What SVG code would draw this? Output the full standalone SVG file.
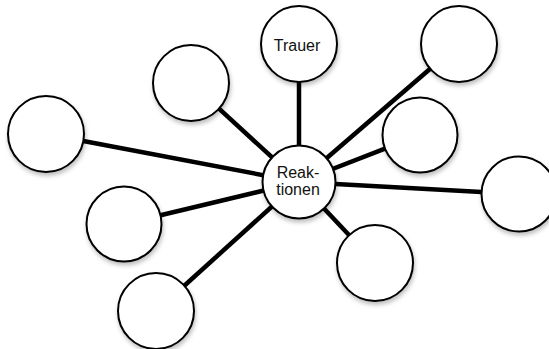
<svg xmlns="http://www.w3.org/2000/svg" width="549" height="349" viewBox="0 0 549 349">
  <defs>
    <filter id="sh" x="-20%" y="-20%" width="150%" height="150%">
      <feDropShadow dx="1" dy="3" stdDeviation="2" flood-color="#000" flood-opacity="0.25"/>
    </filter>
  </defs>
  <style>
    .edge { stroke: #000; stroke-width: 4.5; stroke-linecap: butt; fill: none; }
    .node circle { fill: #fff; stroke: #000; stroke-width: 2; filter: url(#sh); }
    .node text { font-family: "Liberation Sans", Arial, sans-serif; font-size: 16px; fill: #111; text-anchor: middle; }
  </style>
  <rect width="549" height="349" fill="#fff"/>
  <g id="connectors">
    <line class="edge" x1="299" y1="82" x2="299" y2="182"/>
    <line class="edge" x1="219" y1="108.7" x2="299" y2="182"/>
    <line class="edge" x1="430.2" y1="68.8" x2="299" y2="182"/>
    <line class="edge" x1="83.3" y1="141" x2="299" y2="182"/>
    <line class="edge" x1="385" y1="148.6" x2="299" y2="182"/>
    <line class="edge" x1="481.6" y1="192" x2="299" y2="182"/>
    <line class="edge" x1="160.5" y1="215.3" x2="299" y2="182"/>
    <line class="edge" x1="349" y1="235" x2="299" y2="182"/>
    <line class="edge" x1="184" y1="286" x2="299" y2="182"/>
  </g>
  <g id="node-trauer" class="node">
    <circle cx="299" cy="44" r="38"/>
    <text x="297" y="51">Trauer</text>
  </g>
  <g id="node-topleft" class="node"><circle cx="191" cy="83" r="38"/></g>
  <g id="node-topright" class="node"><circle cx="459" cy="44" r="38"/></g>
  <g id="node-left" class="node"><circle cx="46" cy="134" r="38"/></g>
  <g id="node-rightmid" class="node"><circle cx="420" cy="135" r="37.5"/></g>
  <g id="node-right" class="node"><circle cx="519" cy="194" r="37.5"/></g>
  <g id="node-leftmid" class="node"><circle cx="124" cy="224" r="37.5"/></g>
  <g id="node-bottomright" class="node"><circle cx="375" cy="263" r="38"/></g>
  <g id="node-bottomleft" class="node"><circle cx="156" cy="311" r="38"/></g>
  <g id="node-center" class="node">
    <circle cx="299" cy="182" r="36.5"/>
    <text x="298" y="178">Reak-</text>
    <text x="298" y="195">tionen</text>
  </g>
</svg>
